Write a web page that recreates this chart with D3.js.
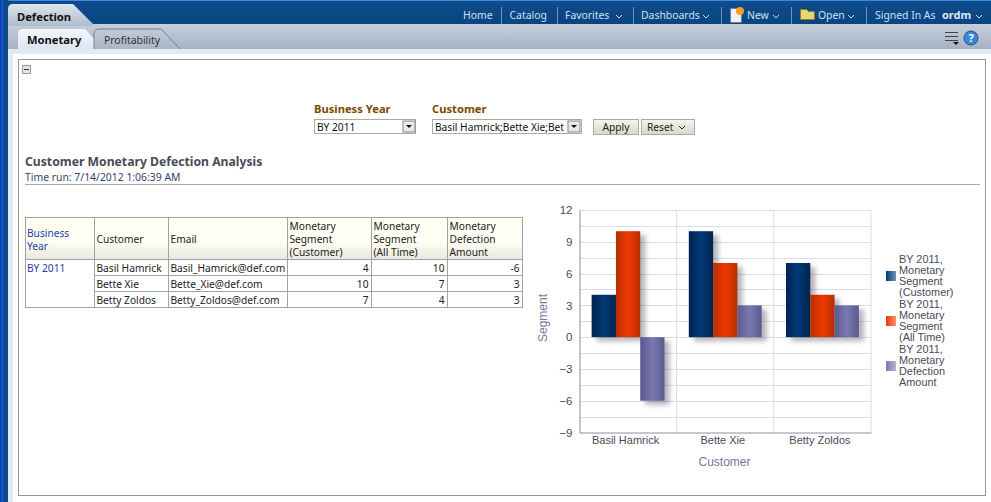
<!DOCTYPE html>
<html>
<head>
<meta charset="utf-8">
<script src="https://cdn.jsdelivr.net/npm/d3@7"></script>
<style>
html, body { margin: 0; padding: 0; background: #fff; overflow: hidden; }
svg { display: block; }
text { font-family: "Noto Sans", sans-serif; font-size: 11px; fill: #222; }
.chart text { font-family: "Liberation Sans", sans-serif; }
</style>
</head>
<body>
<script>
const customers = ['Basil Hamrick', 'Bette Xie', 'Betty Zoldos'];
const emails = ['Basil_Hamrick@def.com', 'Bette_Xie@def.com', 'Betty_Zoldos@def.com'];
const segmentCustomer = [4, 10, 7];
const segmentAllTime = [10, 7, 4];
const defectionAmount = [-6, 3, 3];
const seriesNames = ['Monetary Segment (Customer)', 'Monetary Segment (All Time)', 'Monetary Defection Amount'];
const seriesValues = [segmentCustomer, segmentAllTime, defectionAmount];
const seriesColors = [['#00234f', '#003a78'], ['#b52f00', '#f03800'], ['#5a5a8e', '#7a78b2']];
const legendLines = [
	['BY 2011,', 'Monetary', 'Segment', '(Customer)'],
	['BY 2011,', 'Monetary', 'Segment', '(All Time)'],
	['BY 2011,', 'Monetary', 'Defection', 'Amount']
];
const yTicks = [12, 9, 6, 3, 0, -3, -6, -9];
const yMinor = [10.5, 7.5, 4.5, 1.5, -1.5, -4.5, -7.5];
const navItems = ['Home', 'Catalog', 'Favorites', 'Dashboards', 'New', 'Open', 'Signed In As'];
const tableHeaders = [['Business', 'Year'], ['Customer'], ['Email'], ['Monetary', 'Segment', '(Customer)'], ['Monetary', 'Segment', '(All Time)'], ['Monetary', 'Defection', 'Amount']];

const svg = d3.select('body').append('svg').attr('width', 991).attr('height', 502);
const defs = svg.append('defs');

function vGrad(id, stops) {
	const g = defs.append('linearGradient').attr('id', id).attr('x1', 0).attr('x2', 0).attr('y1', 0).attr('y2', 1);
	stops.forEach(s => g.append('stop').attr('offset', s[0]).attr('stop-color', s[1]));
}
function hGrad(id, stops) {
	const g = defs.append('linearGradient').attr('id', id).attr('x1', 0).attr('x2', 1).attr('y1', 0).attr('y2', 0);
	stops.forEach(s => g.append('stop').attr('offset', s[0]).attr('stop-color', s[1]));
}
vGrad('topbar', [[0, '#0f4c8c'], [1, '#0a4582']]);
vGrad('tabbar', [[0, '#c6d0db'], [1, '#a6b2c3']]);
vGrad('tabOn', [[0, '#f4f7fb'], [1, '#dbe5f1']]);
vGrad('tabOff', [[0, '#c2ccd8'], [1, '#aab6c6']]);
vGrad('tabTop', [[0, '#dfe7ef'], [1, '#aebccb']]);
vGrad('thead', [[0, '#fffff4'], [0.55, '#fffff4'], [1, '#e8e8de']]);
vGrad('btn', [[0, '#f4f4ea'], [1, '#d8d8c6']]);
seriesColors.forEach((c, i) => {
	hGrad('bar' + i, [[0, c[0]], [0.5, c[1]], [1, c[0]]]);
	hGrad('key' + i, [[0, c[1]], [1, d3.interpolateRgb(c[1], '#fff')(0.45)]]);
});
defs.append('filter').attr('id', 'blur').attr('x', '-40%').attr('y', '-40%').attr('width', '180%').attr('height', '180%')
	.append('feGaussianBlur').attr('stdDeviation', 2.6);

function box(x, y, w, h, fill, stroke) {
	return svg.append('rect').attr('x', x).attr('y', y).attr('width', w).attr('height', h)
		.attr('fill', fill).attr('stroke', stroke || 'none');
}
function label(parent, x, y, str, size, color, weight, anchor) {
	return parent.append('text').attr('x', x).attr('y', y).text(str)
		.style('font-size', size + 'px').style('fill', color)
		.style('font-weight', weight || 'normal').attr('text-anchor', anchor || 'start');
}
function chevron(x, y, color) {
	svg.append('path').attr('d', `M${x},${y}l3,3l3,-3`).attr('fill', 'none').attr('stroke', color).attr('stroke-width', 1);
}

// Window chrome
box(0, 0, 991, 502, '#fff');
box(0, 0, 991, 24, 'url(#topbar)');
box(0, 0, 991, 1, '#3d86e4');
box(0, 24, 991, 25, 'url(#tabbar)');
box(0, 49, 991, 5, '#e0eaf4');
box(8, 49, 5, 453, '#e0eaf4');
box(13, 54, 978, 448, '#fff');
box(0, 0, 8, 502, '#0d4a86');
box(1, 0, 2, 502, '#0d55e0');
box(0, 0, 1, 502, '#0a3f8f');

// Tabs
svg.append('path').attr('d', 'M8,24L8,9Q8,4 13,4L73,4L93,24L93,26L8,26Z').attr('fill', 'url(#tabTop)');
label(svg, 17, 21, 'Defection', 11.2, '#111', 'bold');
svg.append('path').attr('d', 'M18,49L18,34Q18,29 23,29L85,29L103,49Z').attr('fill', 'url(#tabOn)');
label(svg, 27, 44, 'Monetary', 11.2, '#111', 'bold');
svg.append('path').attr('d', 'M94,49L94,34Q94,29 99,29L161,29L180,49').attr('fill', 'url(#tabOff)').attr('stroke', '#6f7f90');
label(svg, 104, 44, 'Profitability', 10.4, '#333');

// Top navigation
const navX = [463, 509.5, 565, 641, 747, 818, 875];
navItems.forEach((n, i) => label(svg, navX[i], 19, n, 10.4, '#cfe0f2'));
label(svg, 942, 19, 'ordm', 11, '#dbe8f5', 'bold');
[616, 703, 773, 848, 976].forEach(x => chevron(x, 15, '#cfe0f2'));
[501, 557, 633, 721, 791, 866].forEach(x => box(x, 7, 1, 17, '#6f94bb'));
// New / Open icons
box(730.5, 8.5, 11, 14, '#eef1f6', '#6a7d96');
svg.append('circle').attr('cx', 740).attr('cy', 11).attr('r', 4).attr('fill', '#f0a020');
svg.append('path').attr('d', 'M800.5,19.5V9.5h6l2,2h6v8z').attr('fill', '#e8d674').attr('stroke', '#8a7a30');

// Toolbar icons on the right
[32, 36, 40].forEach(y => box(945, y, 13, 1, '#444'));
svg.append('path').attr('d', 'M953,42h6l-3,3z').attr('fill', '#111');
svg.append('circle').attr('cx', 971).attr('cy', 38).attr('r', 7).attr('fill', '#3a86d8').attr('stroke', '#1c4f99');
label(svg, 971, 42, '?', 11, '#fff', 'bold', 'middle');

// Dashboard section frame
box(18.5, 59.5, 967, 436, '#fff', '#999990');
box(22.5, 65.5, 8, 8, '#e4e4e4', '#999');
box(24, 69, 5, 1, '#333');

// Prompts
label(svg, 314, 113, 'Business Year', 11.2, '#7a4a00', 'bold');
label(svg, 432, 113, 'Customer', 11.2, '#7a4a00', 'bold');
box(314.5, 119.5, 101, 14, '#fff', '#aaa');
label(svg, 317, 131, 'BY 2011', 10.2, '#111');
box(432.5, 119.5, 149, 14, '#fff', '#aaa');
label(svg, 435, 131, 'Basil Hamrick;Bette Xie;Bet', 10.2, '#111');
[403, 568].forEach(x => {
	box(x, 121, 12, 11, '#e8e8e8', '#888');
	svg.append('path').attr('d', `M${x + 3},125h6l-3,3z`).attr('fill', '#111');
});
box(593.5, 119.5, 45, 15, 'url(#btn)', '#aaa');
label(svg, 616, 131, 'Apply', 10.2, '#222', 'normal', 'middle');
box(641.5, 119.5, 53, 15, 'url(#btn)', '#aaa');
label(svg, 647, 131, 'Reset', 10.2, '#222');
chevron(679, 126, '#222');

// Title
label(svg, 25, 166, 'Customer Monetary Defection Analysis', 12.2, '#4a4a55', 'bold');
label(svg, 25, 181, 'Time run: 7/14/2012 1:06:39 AM', 10.4, '#34456a');
box(25, 184, 955, 1, '#aaa');

// Table
const colX = [25.5, 94.5, 168.5, 287.5, 371.5, 447.5, 522.5];
const rowY = [259.5, 275.5, 291.5, 307.5];
const tableGrey = '#a2a2a2';
const tbl = svg.append('g');
tbl.append('rect').attr('x', colX[0]).attr('y', 217.5).attr('width', colX[6] - colX[0]).attr('height', 42)
	.attr('fill', 'url(#thead)');
tbl.append('rect').attr('x', colX[0]).attr('y', 217.5).attr('width', colX[6] - colX[0]).attr('height', rowY[3] - 217.5)
	.attr('fill', 'none').attr('stroke', tableGrey);
tbl.selectAll('line.col').data(colX.slice(1, 6)).join('line').attr('class', 'col')
	.attr('x1', d => d).attr('x2', d => d).attr('y1', 217.5).attr('y2', rowY[3]).attr('stroke', tableGrey);
tbl.selectAll('line.row').data(rowY.slice(0, 3)).join('line').attr('class', 'row')
	.attr('x1', (d, i) => i ? colX[1] : colX[0]).attr('x2', colX[6]).attr('y1', d => d).attr('y2', d => d).attr('stroke', tableGrey);
tableHeaders.forEach((lines, c) => {
	const top = 243 - (lines.length - 1) * 6.5;
	lines.forEach((t, k) => label(tbl, colX[c] + (c ? 2 : 1.5), top + k * 13, t, 10.2, c ? '#222' : '#1a3fa8'));
});
label(tbl, colX[0] + 1.5, 272, 'BY 2011', 10.2, '#1a3fa8');
customers.forEach((c, i) => {
	const y = rowY[i] + 12.5;
	label(tbl, colX[1] + 2, y, c, 10.2, '#222');
	label(tbl, colX[2] + 2, y, emails[i], 10.2, '#222');
	seriesValues.forEach((vals, s) => label(tbl, colX[s + 4] - 3, y, vals[i], 10.2, '#222', 'normal', 'end'));
});

// Chart
const chart = svg.append('g').attr('class', 'chart');
const x0 = d3.scaleBand().domain(customers).range([579.5, 871]);
const x1 = d3.scaleBand().domain(seriesNames).range([0, x0.bandwidth()]).paddingOuter(0.5);
const y = d3.scaleLinear().domain([-9, 12]).range([432.5, 210]);
const gridColor = '#dcdce6';

chart.selectAll('line.minor').data(yMinor.concat(yTicks.filter(t => t !== -9))).join('line').attr('class', 'minor')
	.attr('x1', 579.5).attr('x2', 871).attr('y1', d => Math.round(y(d)) + 0.5).attr('y2', d => Math.round(y(d)) + 0.5)
	.attr('stroke', gridColor);
chart.selectAll('line.cat').data(customers.slice(1)).join('line').attr('class', 'cat')
	.attr('x1', d => x0(d)).attr('x2', d => x0(d)).attr('y1', 210).attr('y2', 432.5).attr('stroke', gridColor);
chart.append('line').attr('x1', 871).attr('x2', 871).attr('y1', 210).attr('y2', 432.5).attr('stroke', gridColor);

const barData = seriesValues.flatMap((vals, s) => vals.map((v, i) => ({ s, v, cat: customers[i], name: seriesNames[s] })));
chart.selectAll('rect.shadow').data(barData).join('rect').attr('class', 'shadow')
	.attr('x', d => x0(d.cat) + x1(d.name) + 5).attr('y', d => Math.min(y(d.v), y(0)) + 4)
	.attr('width', x1.bandwidth()).attr('height', d => Math.abs(y(d.v) - y(0)))
	.attr('fill', '#5a5a68').attr('opacity', 0.45).attr('filter', 'url(#blur)');
chart.selectAll('rect.bar').data(barData).join('rect').attr('class', 'bar')
	.attr('x', d => x0(d.cat) + x1(d.name)).attr('y', d => Math.min(y(d.v), y(0)))
	.attr('width', x1.bandwidth()).attr('height', d => Math.abs(y(d.v) - y(0)))
	.attr('fill', d => `url(#bar${d.s})`);

// Axes
const yAxis = chart.append('g').attr('transform', 'translate(579.5,0)')
	.call(d3.axisLeft(y).tickValues(yTicks).tickSize(0).tickPadding(7).tickFormat(d3.format('d')));
yAxis.select('.domain').attr('stroke', '#8c8ca8');
yAxis.selectAll('text').style('font-size', '11.5px').style('fill', '#4a4a5a').style('font-family', '"Liberation Sans", sans-serif');
const xAxis = chart.append('g').attr('transform', 'translate(0,432.5)')
	.call(d3.axisBottom(x0).tickSize(0).tickPadding(4));
xAxis.select('.domain').attr('stroke', '#8c8ca8');
xAxis.selectAll('text').attr('dx', -2.5).style('font-size', '11px').style('fill', '#4a4a5a').style('font-family', '"Liberation Sans", sans-serif');
label(chart, 724.5, 466, 'Customer', 12, '#77779a', 'normal', 'middle');
label(chart, 0, 0, 'Segment', 12, '#77779a', 'normal', 'middle').attr('transform', 'translate(547,318) rotate(-90)');

// Legend
const legendTop = [263, 308, 353];
legendLines.forEach((lines, s) => {
	chart.append('rect').attr('x', 886).attr('y', legendTop[s] + 8).attr('width', 10).attr('height', 10)
		.attr('fill', `url(#key${s})`);
	lines.forEach((t, k) => label(chart, 899, legendTop[s] + k * 11, t, 10.9, '#4a4a5a'));
});
</script>
</body>
</html>
